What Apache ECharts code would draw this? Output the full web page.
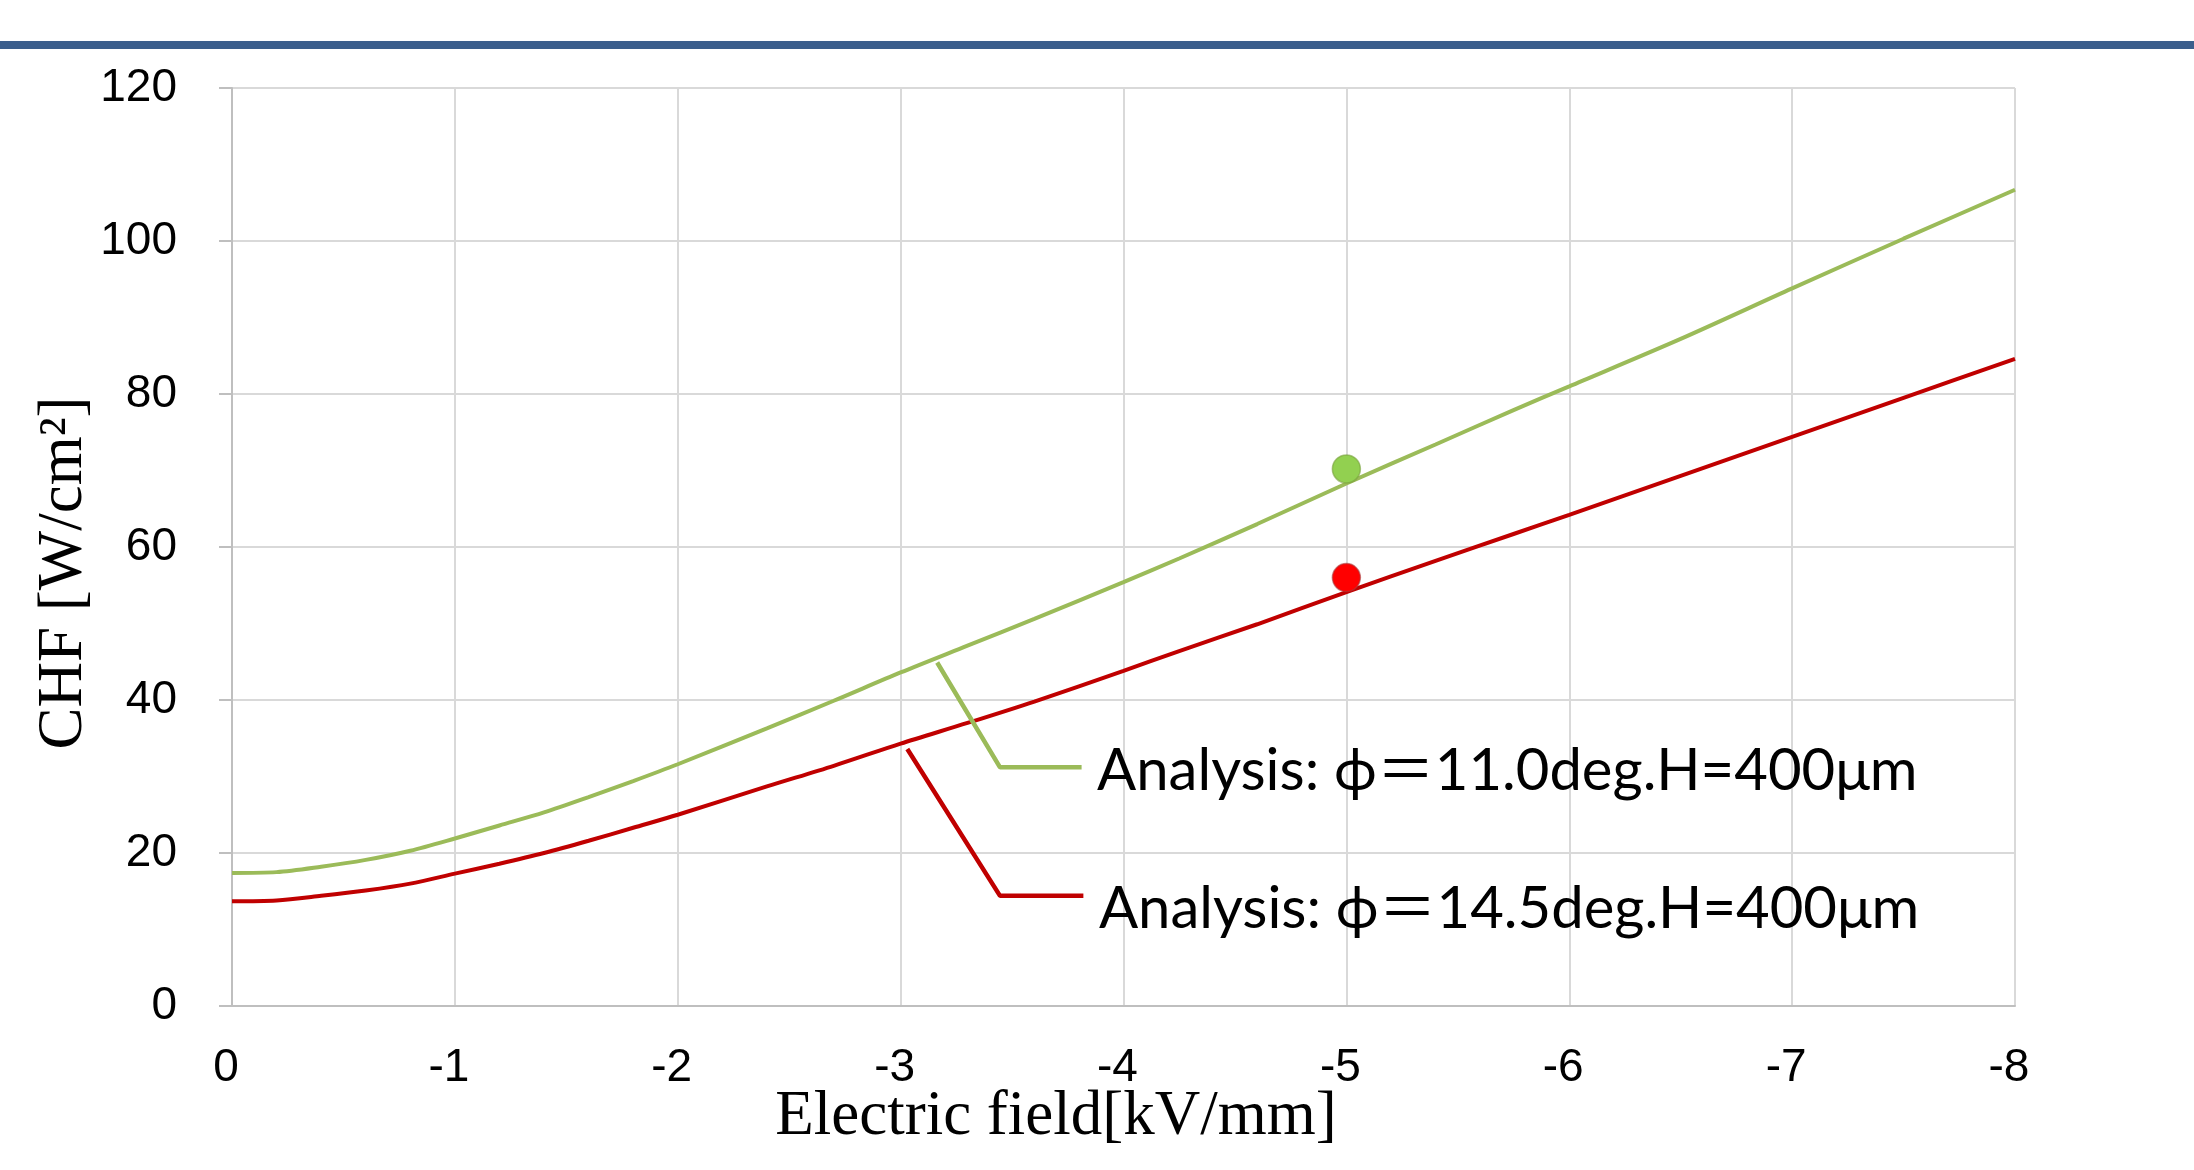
<!DOCTYPE html>
<html lang="en">
<head>
	<meta charset="UTF-8">
	<title>CHF vs Electric field</title>
	<script src="https://cdn.jsdelivr.net/npm/echarts@6/dist/echarts.min.js"></script>
	<style>
		html, body { margin: 0; padding: 0; background: #fff; }
		#chart { width: 2194px; height: 1170px; }
	</style>
</head>
<body>
	<div id="chart"></div>
	<script>
		// electric field [kV/mm] (x positions of the analysis curves)
		var eField = [0, -0.2, -0.4, -0.6, -0.8, -1.0, -1.2, -1.4, -1.6, -1.8, -2.0, -2.4, -2.7, -3.0,
			-3.3, -3.6, -4.0, -4.25, -4.6, -5.0, -5.4, -5.75, -6.0, -6.5, -7.0, -7.5, -8.0];
		// analysis, phi = 11.0deg
		var chfPhi110 = [17.4, 17.5, 18.2, 19.1, 20.3, 21.9, 23.6, 25.3, 27.3, 29.4, 31.6, 36.3, 39.9, 43.6,
			47.1, 50.6, 55.4, 58.5, 63.0, 68.3, 73.4, 77.9, 81.0, 87.2, 93.8, 100.3, 106.7];
		// analysis, phi = 14.5deg
		var chfPhi145 = [13.7, 13.8, 14.4, 15.1, 16.0, 17.3, 18.6, 20.0, 21.6, 23.3, 25.0, 28.7, 31.4, 34.3,
			37.0, 39.8, 43.8, 46.4, 49.9, 54.1, 58.2, 61.7, 64.2, 69.3, 74.4, 79.5, 84.6];

		// measured points
		var expField = [-5];
		var expPhi110 = [70.2];
		var expPhi145 = [56.0];

		// callout leader lines (data coords)
		var leader110X = [-3.164, -3.446, -3.812];
		var leader110Y = [44.9, 31.2, 31.2];
		var leader145X = [-3.03, -3.446, -3.82];
		var leader145Y = [33.6, 14.4, 14.4];

		var label110 = 'Analysis: ϕ＝11.0deg.H=400μm';
		var label145 = 'Analysis: ϕ＝14.5deg.H=400μm';

		function pairs(xs, ys) {
			return xs.map(function (x, i) { return [x, ys[i]]; });
		}

		// leader line; text sits on the last point
		function leader(xs, ys, text, offY) {
			var d = pairs(xs, ys);
			return d.map(function (p, i) {
				if (i < d.length - 1) return { value: p, label: { show: false } };
				return {
					value: p,
					label: {
						show: true, position: 'right', distance: 15, offset: [0, offY],
						formatter: text, color: '#000',
						fontFamily: 'Lato, "Noto Sans CJK JP", sans-serif', fontSize: 58
					}
				};
			});
		}

		var green = '#9bbb59', red = '#c00000';
		var serif = '"Liberation Serif", "Times New Roman", serif';
		var sans = '"Liberation Sans", Arial, sans-serif';

		var option = {
			animation: false,
			backgroundColor: '#fff',
			grid: { left: 232, right: 179, top: 88, bottom: 164 },
			xAxis: {
				type: 'value', min: -8, max: 0, interval: 1, inverse: true,
				axisLine: { lineStyle: { color: '#bfbfbf', width: 2 } },
				axisTick: { show: false },
				splitLine: { lineStyle: { color: '#d9d9d9', width: 2 } },
				axisLabel: { color: '#000', fontSize: 46, fontFamily: sans, margin: 39, padding: [0, 12, 0, 0] }
			},
			yAxis: {
				type: 'value', min: 0, max: 120, interval: 20,
				axisLine: { show: true, lineStyle: { color: '#bfbfbf', width: 2 } },
				axisTick: { show: true, length: 13, lineStyle: { color: '#bfbfbf', width: 2 } },
				splitLine: { lineStyle: { color: '#d9d9d9', width: 2 } },
				axisLabel: { color: '#000', fontSize: 46, fontFamily: sans, margin: 55, padding: [11, 0, 0, 0] }
			},
			graphic: [
				{ type: 'rect', shape: { x: 0, y: 41, width: 2194, height: 8 }, style: { fill: '#3b5e8c' } },
				{
					type: 'text', x: 1056, y: 1117,
					style: { text: 'Electric field[kV/mm]', font: '63px ' + serif, fill: '#000',
						textAlign: 'center', textVerticalAlign: 'middle', align: 'center', verticalAlign: 'middle' }
				},
				{
					type: 'text', x: 64, y: 573, rotation: Math.PI / 2,
					style: { text: 'CHF [W/cm²]', font: '63px ' + serif, fill: '#000',
						textAlign: 'center', textVerticalAlign: 'middle', align: 'center', verticalAlign: 'middle' }
				}
			],
			series: [
				{
					name: 'phi11.0', type: 'line', data: pairs(eField, chfPhi110),
					smooth: 0.3, showSymbol: false, lineStyle: { color: green, width: 4 }, z: 2
				},
				{
					name: 'phi14.5', type: 'line', data: pairs(eField, chfPhi145),
					smooth: 0.3, showSymbol: false, lineStyle: { color: red, width: 4 }, z: 2
				},
				{
					name: 'leader11.0', type: 'line', data: leader(leader110X, leader110Y, label110, 4),
					symbol: 'circle', symbolSize: 1, showSymbol: true, silent: true,
					itemStyle: { color: 'rgba(0,0,0,0)' }, lineStyle: { color: green, width: 4.5 }, z: 3
				},
				{
					name: 'leader14.5', type: 'line', data: leader(leader145X, leader145Y, label145, 13),
					symbol: 'circle', symbolSize: 1, showSymbol: true, silent: true,
					itemStyle: { color: 'rgba(0,0,0,0)' }, lineStyle: { color: red, width: 4.5 }, z: 3
				},
				{
					name: 'exp11.0', type: 'scatter', data: pairs(expField, expPhi110), symbolSize: 28,
					itemStyle: { color: '#92d050', borderColor: 'rgba(120,160,60,0.6)', borderWidth: 1.5, opacity: 1 }, z: 4
				},
				{
					name: 'exp14.5', type: 'scatter', data: pairs(expField, expPhi145), symbolSize: 28,
					itemStyle: { color: '#ff0000', borderColor: 'rgba(170,60,60,0.6)', borderWidth: 1.5, opacity: 1 }, z: 4
				}
			]
		};

		var myChart = echarts.init(document.getElementById('chart'));
		myChart.setOption(option);
	</script>
</body>
</html>
